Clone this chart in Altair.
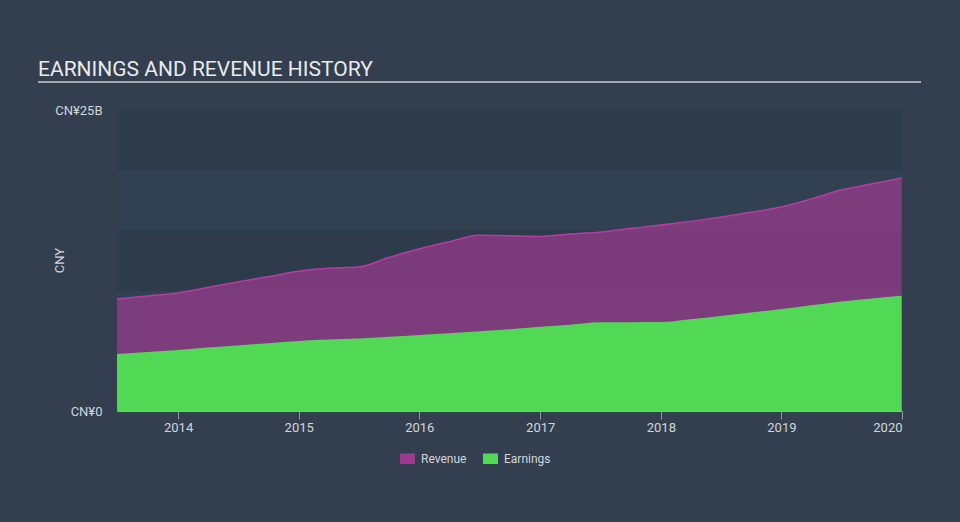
import altair as alt
import pandas as pd

# ---- data (values in CNY billions) ----
quarters = [
    "2013-06-30", "2013-09-30", "2013-12-31", "2014-03-31", "2014-06-30", "2014-09-30",
    "2014-12-31", "2015-03-31", "2015-06-30", "2015-09-30", "2015-12-31", "2016-03-31",
    "2016-06-30", "2016-09-30", "2016-12-31", "2017-03-31", "2017-06-30", "2017-09-30",
    "2017-12-31", "2018-03-31", "2018-06-30", "2018-09-30", "2018-12-31", "2019-03-31",
    "2019-06-30", "2019-09-30", "2019-12-31",
]
revenue_b = [
    9.30, 9.55, 9.80, 10.25, 10.72, 11.15, 11.60, 11.85, 11.95, 12.75, 13.45, 14.05,
    14.60, 14.55, 14.50, 14.70, 14.85, 15.15, 15.45, 15.75, 16.10, 16.50, 16.95, 17.60,
    18.35, 18.85, 19.35,
]
earnings_b = [
    4.73, 4.90, 5.07, 5.27, 5.45, 5.63, 5.82, 5.93, 6.03, 6.17, 6.32, 6.45,
    6.62, 6.80, 7.00, 7.17, 7.38, 7.38, 7.39, 7.62, 7.90, 8.18, 8.47, 8.78,
    9.10, 9.35, 9.58,
]
band_lo = [0, 5, 10, 15, 20]
band_hi = [5, 10, 15, 20, 25]
band_shade = ["dark", "light", "dark", "light", "dark"]
y_tick_values = [0, 25]
x_tick_years = [2014, 2015, 2016, 2017, 2018, 2019, 2020]
series_names = ["Revenue", "Earnings"]
series_colors = ["#9c3a8f", "#51d855"]
title_text = ["EARNINGS AND REVENUE HISTORY"]

df = pd.DataFrame({"date": quarters, "revenue": revenue_b, "earnings": earnings_b})
bands = pd.DataFrame({"lo": band_lo, "hi": band_hi, "shade": band_shade})

W, H = 785, 301
LABEL = "#d2d6db"
FONT = "Roboto"

x_scale = alt.Scale(
    type="utc",
    domain=[alt.DateTime(year=2013, month=6, date=30, utc=True),
            alt.DateTime(year=2020, month=1, date=1, utc=True)],
)
x_axis = alt.Axis(
    values=[alt.DateTime(year=y, month=1, date=1, utc=True) for y in x_tick_years],
    labelExpr="utcFormat(datum.value, '%Y')",
    title=None, grid=False, tickSize=8, tickColor="#8c97a4", domainColor="#a2aab4",
    labelColor=LABEL, labelFontSize=13, labelFont=FONT, labelPadding=2,
    labelFlush=True, labelOverlap=False,
)
y_scale = alt.Scale(domain=[0, 25], nice=False, zero=True)
y_axis = alt.Axis(
    values=y_tick_values,
    labelExpr="datum.value == 0 ? 'CN¥0' : 'CN¥' + datum.value + 'B'",
    title="CNY", grid=False, ticks=False, domain=False,
    labelColor=LABEL, labelFontSize=13, labelFont=FONT, labelPadding=15,
    labelFlush=False,
    titleColor=LABEL, titleFont=FONT, titleFontSize=13, titleFontWeight="normal",
    titleAngle=270, titleX=-58, titleY=150, titleAlign="center", titleBaseline="middle",
)

color_scale = alt.Scale(domain=series_names, range=series_colors)
legend = alt.Legend(
    title=None, orient="none", legendX=283, legendY=341, direction="horizontal",
    symbolType="M-1,-0.7L1,-0.7L1,0.7L-1,0.7Z", symbolSize=225, symbolOpacity=1,
    symbolStrokeWidth=0, labelColor=LABEL, labelFont=FONT, labelFontSize=12,
    labelOffset=6, columnPadding=16, padding=0,
)

band_layer = alt.Chart(bands).mark_rect().encode(
    x=alt.value(0), x2=alt.value(W),
    y=alt.Y("lo:Q", scale=y_scale, axis=y_axis), y2="hi:Q",
    fill=alt.condition("datum.shade == 'dark'", alt.value("#2e3b4a"), alt.value("#324152")),
)

base = alt.Chart(df)
rev_area = base.transform_calculate(series="'Revenue'").mark_area(
    interpolate="monotone", fillOpacity=0.7
).encode(
    x=alt.X("date:T", scale=x_scale, axis=x_axis),
    y=alt.Y("revenue:Q", scale=y_scale, axis=y_axis),
    color=alt.Color("series:N", scale=color_scale, legend=legend, sort=series_names),
)
rev_line = base.mark_line(interpolate="monotone", color="#b63ca8", strokeWidth=1.5).encode(
    x=alt.X("date:T", scale=x_scale, axis=x_axis),
    y=alt.Y("revenue:Q", scale=y_scale, axis=y_axis),
)
earn_area = base.transform_calculate(series="'Earnings'").mark_area(
    interpolate="monotone", opacity=1
).encode(
    x=alt.X("date:T", scale=x_scale, axis=x_axis),
    y=alt.Y("earnings:Q", scale=y_scale, axis=y_axis),
    color=alt.Color("series:N", scale=color_scale, legend=legend, sort=series_names),
)

title_layer = alt.Chart(pd.DataFrame({"t": title_text})).mark_text(
    align="left", baseline="alphabetic", font=FONT, fontSize=21, color="#e8eaed",
).encode(x=alt.value(-79), y=alt.value(-34), text="t:N")

underline = alt.Chart(pd.DataFrame({"t": title_text})).mark_rule(
    color="#a4a9b0", strokeWidth=2
).encode(x=alt.value(-79), x2=alt.value(804), y=alt.value(-28))

chart = alt.layer(band_layer, rev_area, rev_line, earn_area, title_layer, underline).properties(
    width=W, height=H,
    autosize=alt.AutoSizeParams(type="none"),
    padding={"left": 117, "top": 110, "right": 58, "bottom": 111},
    background="#333f4f",
).configure_view(stroke=None)

chart.save("out.html", embed_options={"renderer": "svg", "actions": False})
